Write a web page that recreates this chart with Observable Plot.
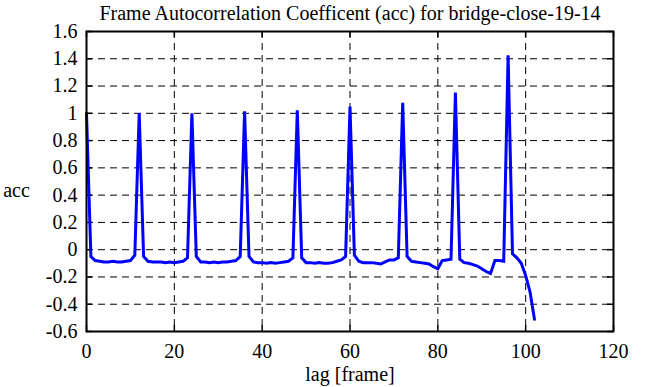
<!DOCTYPE html>
<html>
<head>
<meta charset="utf-8">
<script src="https://cdn.jsdelivr.net/npm/d3@7"></script>
<script src="https://cdn.jsdelivr.net/npm/@observablehq/plot@0.6"></script>
<style>
  html, body { margin: 0; padding: 0; background: #fff; }
  #chart svg { display: block; }
  #chart svg text { font-family: 'Liberation Serif', 'Times New Roman', serif; }
</style>
</head>
<body>
<div id="chart"></div>
<script>
const titleText = "Frame Autocorrelation Coefficent (acc) for bridge-close-19-14";
const xLabel = "lag [frame]";
const yLabel = "acc";
const xTicks = [0, 20, 40, 60, 80, 100, 120];
const yTicks = [-0.6, -0.4, -0.2, 0, 0.2, 0.4, 0.6, 0.8, 1, 1.2, 1.4, 1.6];
// acc value at lag 0, 1, 2, ... 102
const accValues = [
  1.0, -0.05, -0.08, -0.085, -0.09, -0.09, -0.085, -0.09, -0.09, -0.085,
  -0.08, -0.04, 1.0, -0.05, -0.085, -0.09, -0.09, -0.09, -0.095, -0.09,
  -0.095, -0.09, -0.085, -0.06, 1.0, -0.05, -0.09, -0.09, -0.095, -0.09,
  -0.095, -0.09, -0.09, -0.085, -0.08, -0.05, 1.015, -0.05, -0.09, -0.095,
  -0.095, -0.1, -0.095, -0.1, -0.095, -0.09, -0.085, -0.06, 1.022, -0.06,
  -0.095, -0.095, -0.1, -0.095, -0.1, -0.1, -0.095, -0.085, -0.075, -0.05,
  1.05, -0.04, -0.085, -0.095, -0.095, -0.095, -0.1, -0.105, -0.09, -0.075,
  -0.075, -0.06, 1.077, -0.05, -0.085, -0.09, -0.095, -0.1, -0.105, -0.125,
  -0.14, -0.08, -0.075, -0.07, 1.153, -0.07, -0.095, -0.1, -0.11, -0.12,
  -0.14, -0.16, -0.175, -0.08, -0.08, -0.085, 1.425, -0.03, -0.06, -0.1,
  -0.19, -0.31, -0.51
];
const data = accValues.map((v, i) => ({lag: i, acc: v}));

const W = 666, H = 387;
const mL = 86, mR = 53, mT = 31, mB = 56;
const innerW = W - mL - mR, innerH = H - mT - mB;
const font = "'Liberation Serif', 'Times New Roman', serif";
const fs = 20;

const chart = Plot.plot({
  width: W,
  height: H,
  marginLeft: mL,
  marginRight: mR,
  marginTop: mT,
  marginBottom: mB,
  style: {fontFamily: font, fontSize: fs + "px", background: "#fff", color: "#000"},
  x: {domain: [0, 120], ticks: xTicks},
  y: {domain: [-0.6, 1.6], ticks: yTicks},
  marks: [
    Plot.gridX(xTicks.slice(1, -1), {stroke: "#000", strokeOpacity: 1, strokeWidth: 1, strokeDasharray: "7,5"}),
    Plot.gridY(yTicks.slice(1, -1), {stroke: "#000", strokeOpacity: 1, strokeWidth: 1, strokeDasharray: "7,5"}),
    // inward ticks on all four sides
    Plot.tickX(xTicks, {x: d => d, stroke: "#000", strokeWidth: 1.5, insetTop: innerH - 6}),
    Plot.tickX(xTicks, {x: d => d, stroke: "#000", strokeWidth: 1.5, insetBottom: innerH - 6}),
    Plot.tickY(yTicks, {y: d => d, stroke: "#000", strokeWidth: 1.5, insetRight: innerW - 6}),
    Plot.tickY(yTicks, {y: d => d, stroke: "#000", strokeWidth: 1.5, insetLeft: innerW - 6}),
    Plot.axisX(xTicks, {tickSize: 0, tickPadding: 12, label: null, fontSize: fs, fontFamily: font, tickFormat: d => String(d)}),
    Plot.axisY(yTicks, {tickSize: 0, tickPadding: 9, label: null, fontSize: fs, fontFamily: font, tickFormat: d => String(Math.round(d * 10) / 10)}),
    Plot.line(data, {x: "lag", y: "acc", stroke: "#0000ff", strokeWidth: 3, strokeLinejoin: "miter", strokeMiterlimit: 2}),
    Plot.frame({stroke: "#000", strokeWidth: 2}),
    Plot.text([titleText], {frameAnchor: "top", dy: -25.5, fontSize: fs, fontFamily: font, fill: "#000"}),
    Plot.text([xLabel], {frameAnchor: "bottom", dy: 49, fontSize: fs, fontFamily: font, fill: "#000"}),
    Plot.text([yLabel], {frameAnchor: "left", dx: -70, dy: 9, textAnchor: "middle", fontSize: fs, fontFamily: font, fill: "#000"})
  ]
});
document.getElementById("chart").appendChild(chart);
</script>
</body>
</html>
